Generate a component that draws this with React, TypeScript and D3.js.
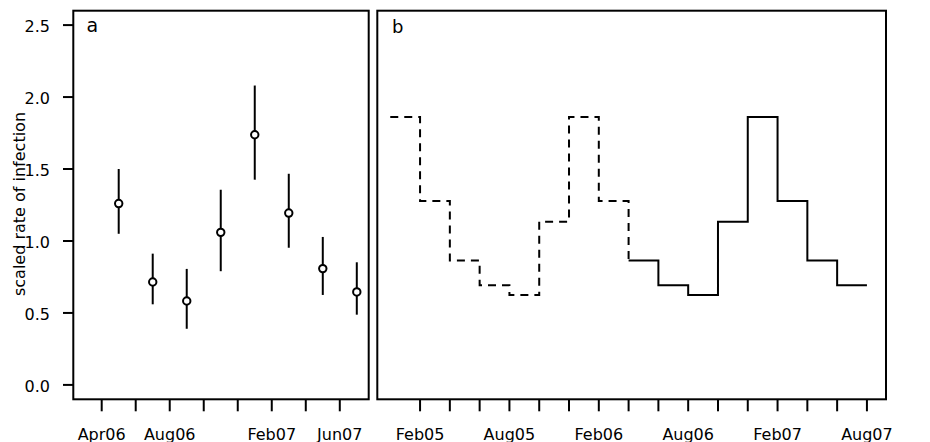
import React from "react";
import * as d3 from "d3";

// panel a: observed rate with intervals
const aMonths = ["2006-05", "2006-07", "2006-09", "2006-11", "2007-01", "2007-03", "2007-05", "2007-07"];
const aRate = [1.26, 0.715, 0.583, 1.06, 1.738, 1.194, 0.808, 0.646];
const aLower = [1.05, 0.56, 0.39, 0.79, 1.426, 0.953, 0.625, 0.488];
const aUpper = [1.5, 0.912, 0.806, 1.356, 2.08, 1.467, 1.028, 0.852];
const aTickMonths = ["2006-04", "2006-06", "2006-08", "2006-10", "2006-12", "2007-02", "2007-04", "2007-06"];
const aTickLabels = ["Apr06", "", "Aug06", "", "", "Feb07", "", "Jun07"];

// panel b: seasonal step curve, dashed (past) and solid (later)
const bPastMonths = ["2004-12", "2005-02", "2005-04", "2005-06", "2005-08", "2005-10", "2005-12", "2006-02", "2006-04"];
const bPastRate = [1.861, 1.278, 0.865, 0.692, 0.625, 1.134, 1.861, 1.278, 0.865];
const bLaterMonths = ["2006-04", "2006-06", "2006-08", "2006-10", "2006-12", "2007-02", "2007-04", "2007-06", "2007-08"];
const bLaterRate = [0.865, 0.692, 0.625, 1.134, 1.861, 1.278, 0.865, 0.692, 0.692];
const bTickMonths = ["2005-02", "2005-04", "2005-06", "2005-08", "2005-10", "2005-12", "2006-02", "2006-04",
  "2006-06", "2006-08", "2006-10", "2006-12", "2007-02", "2007-04", "2007-06", "2007-08"];
const bTickLabels = ["Feb05", "", "", "Aug05", "", "", "Feb06", "", "", "Aug06", "", "", "Feb07", "", "", "Aug07"];

const yTicks = [0, 0.5, 1, 1.5, 2, 2.5];

// month string -> running month number
const mi = (s: string) => {
  const [y, m] = s.split("-").map(Number);
  return y * 12 + m - 1;
};

const FONT = "DejaVu Sans, Arial, sans-serif";
const top = 10.7, bottom = 399.3;

export default function App() {
  const y = d3.scaleLinear().domain([-0.1, 2.6]).range([bottom, top]);

  const a0 = mi("2006-04");
  const xa = d3.scaleLinear().domain([a0 - 1.67, a0 + 15.7]).range([73.3, 368.7]);
  const b0 = mi("2005-02");
  const xb = d3.scaleLinear().domain([b0 - 2.87, b0 + 31.28]).range([377.3, 886]);

  const step = d3.line<[number, number]>()
    .x(d => xb(d[0]))
    .y(d => y(d[1]))
    .curve(d3.curveStepAfter);

  const past = step(bPastMonths.map((m, i) => [mi(m), bPastRate[i]]));
  const later = step(bLaterMonths.map((m, i) => [mi(m), bLaterRate[i]]));

  const sw = 2;

  return (
    <svg width={930} height={442} style={{ position: "absolute", left: 0, top: 0, background: "#fff" }}
      fontFamily={FONT}>
      {/* panel a */}
      <rect x={73.3} y={top} width={368.7 - 73.3} height={bottom - top} fill="none" stroke="#000" strokeWidth={sw} />
      {yTicks.map(t => (
        <g key={t}>
          <line x1={63} x2={73.3} y1={y(t)} y2={y(t)} stroke="#000" strokeWidth={sw} />
          <text x={50} y={y(t) + 7} textAnchor="end" fontSize={16}>{t.toFixed(1)}</text>
        </g>
      ))}
      {aTickMonths.map((m, i) => (
        <g key={m}>
          <line x1={xa(mi(m))} x2={xa(mi(m))} y1={bottom} y2={bottom + 12} stroke="#000" strokeWidth={sw} />
          <text x={xa(mi(m))} y={439.5} textAnchor="middle" fontSize={16}>{aTickLabels[i]}</text>
        </g>
      ))}
      {aMonths.map((m, i) => (
        <g key={m}>
          <line x1={xa(mi(m))} x2={xa(mi(m))} y1={y(aLower[i])} y2={y(aUpper[i])} stroke="#000" strokeWidth={sw} />
          <circle cx={xa(mi(m))} cy={y(aRate[i])} r={3.7} fill="#fff" stroke="#000" strokeWidth={sw} />
        </g>
      ))}
      <text x={86.5} y={32.3} fontSize={19}>a</text>
      <text transform="translate(25,204) rotate(-90)" textAnchor="middle" fontSize={16}>scaled rate of infection</text>

      {/* panel b */}
      <rect x={377.3} y={top} width={886 - 377.3} height={bottom - top} fill="none" stroke="#000" strokeWidth={sw} />
      {bTickMonths.map((m, i) => (
        <g key={m}>
          <line x1={xb(mi(m))} x2={xb(mi(m))} y1={bottom} y2={bottom + 12} stroke="#000" strokeWidth={sw} />
          <text x={xb(mi(m))} y={439.5} textAnchor="middle" fontSize={16}>{bTickLabels[i]}</text>
        </g>
      ))}
      <path d={past ?? ""} fill="none" stroke="#000" strokeWidth={sw} strokeDasharray="8,6" />
      <path d={later ?? ""} fill="none" stroke="#000" strokeWidth={sw} />
      <text x={392} y={33.3} fontSize={18}>b</text>
    </svg>
  );
}
